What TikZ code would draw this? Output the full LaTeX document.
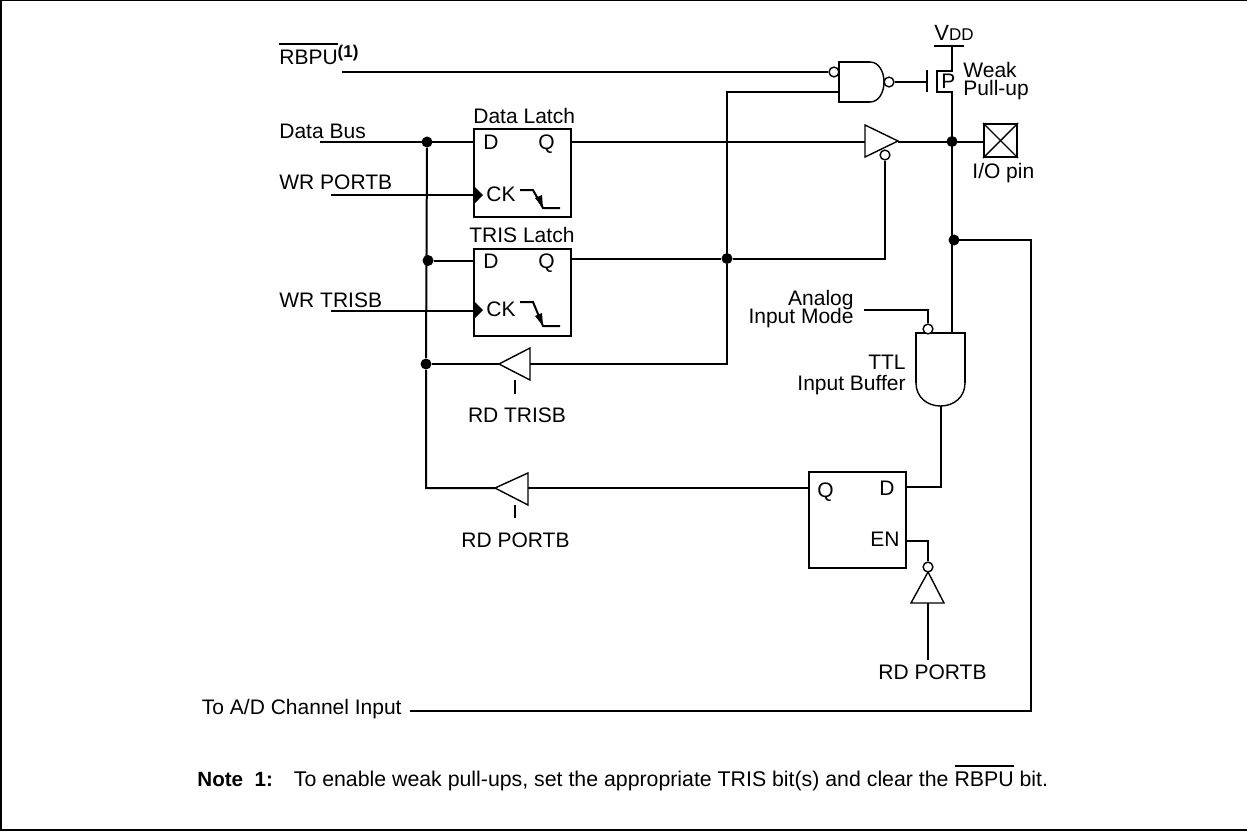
\documentclass[tikz,border=0pt]{standalone}
\usepackage{fontspec}
\setmainfont{Liberation Sans}
\usetikzlibrary{positioning}
\newcommand{\barred}[1]{\sbox0{#1}\leavevmode\rlap{\rule[9.6pt]{\wd0}{0.9pt}}\box0\relax}
\tikzset{
  wire/.style={line width=1pt},
  thin gate/.style={line width=0.7pt},
  latch/.style={draw, line width=1pt, minimum width=48.5pt, anchor=north west, inner sep=0pt},
  dot/.style={circle, fill=black, inner sep=0pt, minimum size=5.5pt},
  bubble/.style={circle, draw, fill=white, line width=0.7pt, inner sep=0pt, minimum size=4.9pt},
  lab/.style={font=\fontsize{10.5}{10.5}\selectfont, inner sep=0pt, anchor=base west},
  labr/.style={font=\fontsize{10.5}{10.5}\selectfont, inner sep=0pt, anchor=base east},
  labc/.style={font=\fontsize{10.5}{10.5}\selectfont, inner sep=0pt, anchor=base}
}
\begin{document}
\begin{tikzpicture}[x=0.5pt, y=-0.5pt]
  \useasboundingbox (0,0) rectangle (1247,831);
  % frame
  \draw[line width=0.8pt] (1247,830) -- (1,830) -- (1,0.5) -- (1247,0.5);

  % latches
  \node[latch, minimum height=44pt] (dlatch) at (473,128) {};
  \node[latch, minimum height=43.5pt] (tlatch) at (473,248) {};
  \node[latch, minimum height=48pt] (platch) at (808,471) {};

  % junctions
  \node[dot] (jd) at (427,142) {};
  \node[dot] (jt) at (428,260.5) {};
  \node[dot] (jr) at (426,364) {};
  \node[dot] (jq) at (727,258.5) {};
  \node[dot] (jio) at (952,141.5) {};
  \node[dot] (jad) at (954,240) {};

  % free ends and corners
  \coordinate (busend) at (426,488);
  \coordinate (databus) at (320,142);
  \coordinate (wrp) at (331,194.5);
  \coordinate (wrt) at (331,311);
  \coordinate (rbpuin) at (342,72);
  \coordinate (vdd) at (952,46);
  \coordinate (adleft) at (410,711);
  \coordinate (adright) at (1031,711);
  \coordinate (adcorner) at (1031,240);

  % buffers and gates
  \draw[thin gate] (865,125) -- (898,141) -- (865,157) -- cycle;
  \draw[thin gate] (499,364) -- (530,348) -- (530,380) -- cycle;
  \draw[thin gate] (495,488) -- (528,473) -- (528,505) -- cycle;
  \draw[thin gate] (928,572) -- (944,603) -- (911,603) -- cycle;
  \draw[wire] (870,62) -- (839,62) -- (839,102) -- (870,102);
  \draw[thin gate] (870,62) .. controls (879,62) and (884,72) .. (884,82) .. controls (884,92) and (879,102) .. (870,102);
  \draw[wire] (916,383) -- (916,333) -- (965,333) -- (965,383);
  \draw[thin gate] (916,383) .. controls (916,397) and (927,406) .. (940.5,406) .. controls (954,406) and (965,397) .. (965,383);

  \node[bubble] (brbpu) at (834,72) {};
  \node[bubble] (bnand) at (889,82) {};
  \node[bubble] (bbuf) at (885,155) {};
  \node[bubble] (band) at (928,329) {};
  \node[bubble] (ben) at (928,567) {};

  % wires
  \draw[wire] (rbpuin) -- (brbpu);
  \draw[wire] (databus) -- (dlatch.west |- databus);
  \draw[wire] (wrp) -- (dlatch.west |- wrp);
  \draw[wire] (wrt) -- (tlatch.west |- wrt);
  \draw[wire] (jt) -- (tlatch.west |- jt);
  \draw[wire] (jd) -- (jr) -- (busend) -- (495,488);
  \draw[wire] (528,488) -- (platch.west |- 528,488);
  \draw[wire] (jr) -- (499,364);
  \draw[wire] (530,364) -| (jq);
  \draw[wire] (jq) |- (839,92);
  \draw[wire] (570,141.5) -- (865,141.5);
  \draw[wire] (898,141.5) -- (984,141.5);
  \draw[wire] (tlatch.east |- jq) -- (jq) -- (885,258.5) -- (bbuf);
  \draw[wire] (bnand) -- (927,82);
  \draw[wire] (927,70) -- (927,92);
  \draw[wire] (vdd) -- (952,71) -- (937,71) -- (937,92) -- (952,92) -- (952,333);
  \draw[wire] (934,46) -- (964,46);
  \draw[wire] (952,240) -- (adcorner) -- (adright) -- (adleft);
  \draw[wire] (band) -- (928,310) -- (864,310);
  \draw[wire] (940.5,406) -- (940.5,487) -- (905,487);
  \draw[wire] (905,541) -- (928,541) -- (ben);
  \draw[wire] (928,603) -- (928,660);
  \draw[wire] (515,380) -- (515,394);
  \draw[wire] (515,505) -- (515,518);

  % pad
  \node[draw, line width=1pt, minimum size=16.5pt, inner sep=0pt] (pad) at (1000.5,140.5) {};
  \draw[thin gate] (pad.north west) -- (pad.south east);
  \draw[thin gate] (pad.north east) -- (pad.south west);

  % latch clocks
  \foreach \yy/\ye/\yb in {195/0/149,310/3/268} {
    \fill (473,\yy-10) -- (483,\yy) -- (473,\yy+10) -- cycle;
    \node[lab] at (486,\yy+6) {CK};
    \draw[wire] (520,\yy-6-\ye+1) -- (533,\yy-6-\ye+1) -- (543,\yy+14+\ye-1) -- (560,\yy+14+\ye-1);
    \fill (535,\yy+4+\ye-1) -- (543,\yy+14+\ye-1) -- (542,\yy+1+\ye-1) -- cycle;
    \node[lab] at (483,\yb) {D};
    \node[lab] at (538,\yb) {Q};
  }

  % texts
  \node[lab] (tdl) at (473,123) {Data Latch};
  \node[lab] (ttl) at (469,242) {TRIS Latch};
  \node[lab] (tp) at (941,88) {P};
  \node[lab, font=\fontsize{11}{11}\selectfont] (tv) at (934,40) {V\fontsize{8.5}{9}\selectfont DD};
  \node[lab] (tw) at (963,77) {Weak};
  \node[lab] (tw2) at (963,95) {Pull-up};
  \node[lab] (tio) at (972,178) {I/O pin};
  \node[labr] (tam) at (854,305) {Analog};
  \node[labr] (tam2) at (854,323) {Input Mode};
  \node[labr] (tin) at (906,369) {TTL};
  \node[labr] (tin2) at (906,390) {Input Buffer};
  \node[lab] (tq) at (817,497) {Q};
  \node[lab] (tdd) at (879,495) {D};
  \node[lab] (ten) at (870,546) {EN};
  \node[labc] (trp) at (932.5,679) {RD PORTB};
  \node[labc] (trt) at (517,422) {RD TRISB};
  \node[labc] (trr) at (515.5,547) {RD PORTB};
  \node[lab] (tdb) at (279,138) {Data Bus};
  \node[lab] (twp) at (279,189) {WR PORTB};
  \node[lab] (twt) at (279,307) {WR TRISB};
  \node[lab] (trb) at (279,64) {\barred{RBPU}\textbf{\raisebox{0.62ex}{\fontsize{8.5}{9}\selectfont (1)}}};
  \node[labr] (tad) at (402,714) {To A/D Channel Input};
  \node[lab, font=\bfseries\fontsize{10.3}{10.3}\selectfont] (tnote) at (197,786) {Note\ \ 1:};
  \node[lab, font=\fontsize{10.65}{10.65}\selectfont] (tn) at (293.5,786) {To enable weak pull-ups, set the appropriate TRIS bit(s) and clear the \barred{RBPU} bit.};
\end{tikzpicture}
\end{document}
